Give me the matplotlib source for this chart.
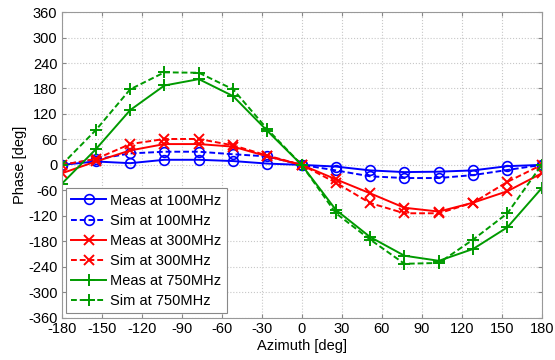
import numpy as np
import matplotlib
matplotlib.use('Agg')
import matplotlib.pyplot as plt

plt.rcParams['font.family'] = ['Liberation Sans', 'DejaVu Sans']
plt.rcParams['axes.unicode_minus'] = False

# Azimut-Stuetzstellen (15 Messpunkte)
azimuth = [-180, -154.3, -128.6, -102.9, -77.1, -51.4, -25.7, 0,
           25.7, 51.4, 77.1, 102.9, 128.6, 154.3, 180]

# Phase in deg
meas100 = [0, 8, 4, 12, 12, 9, 3, 0, -4, -13, -17, -16, -13, -3, 0]
sim100 = [0, 13, 27, 31, 31, 25, 20, 0, -13, -27, -31, -31, -24, -12, 0]
meas300 = [-20, 8, 34, 49, 49, 43, 20, 0, -34, -67, -101, -110, -89, -62, -20]
sim300 = [0, 14, 49, 61, 61, 46, 22, 0, -42, -90, -114, -114, -89, -40, 0]
meas750 = [-45, 37, 129, 187, 202, 162, 80, 0, -106, -170, -214, -226, -198, -147, -55]
sim750 = [0, 82, 178, 218, 217, 178, 84, 0, -114, -176, -233, -231, -176, -114, 0]

blue = '#0000ff'
red = '#ff0000'
green = '#009a00'
dash = (3, 1.5)
fs = 10.5

fig = plt.figure(figsize=(5.55, 3.6), dpi=100)
ax = fig.add_axes([0.111, 0.1175, 0.865, 0.849])

ax.plot(azimuth, meas100, '-', color=blue, marker='o', mfc='none', ms=7, lw=1.4, mew=1.2, label='Meas at 100MHz')
ax.plot(azimuth, sim100, '--', color=blue, marker='o', mfc='none', ms=7, lw=1.4, mew=1.2, dashes=dash, label='Sim at 100MHz')
ax.plot(azimuth, meas300, '-', color=red, marker='x', ms=7, lw=1.4, mew=1.4, label='Meas at 300MHz')
ax.plot(azimuth, sim300, '--', color=red, marker='x', ms=7, lw=1.4, mew=1.4, dashes=dash, label='Sim at 300MHz')
ax.plot(azimuth, meas750, '-', color=green, marker='+', ms=9, lw=1.4, mew=1.4, label='Meas at 750MHz')
ax.plot(azimuth, sim750, '--', color=green, marker='+', ms=9, lw=1.4, mew=1.4, dashes=dash, label='Sim at 750MHz')

ax.set_xlim(-180, 180)
ax.set_ylim(-360, 360)
ax.set_xticks(np.arange(-180, 181, 30))
ax.set_yticks(np.arange(-360, 361, 60))
ax.tick_params(direction='in', length=3, labelsize=fs, top=True, right=True, color='#888888', pad=3)
ax.grid(True, linestyle=':', color='#c8c8c8', linewidth=0.8)
for s in ax.spines.values():
    s.set_color('#999999')
ax.set_xlabel('Azimuth [deg]', fontsize=fs, labelpad=2)
ax.set_ylabel('Phase [deg]', fontsize=fs, labelpad=1)

leg = ax.legend(loc='lower left', fontsize=fs, handlelength=2.4, labelspacing=0.42,
                borderaxespad=0.3, fancybox=False, framealpha=1, borderpad=0.35, handletextpad=0.3)
leg.get_frame().set_edgecolor('#888888')
leg.get_frame().set_linewidth(0.8)

fig.savefig('out.png', dpi=100)
